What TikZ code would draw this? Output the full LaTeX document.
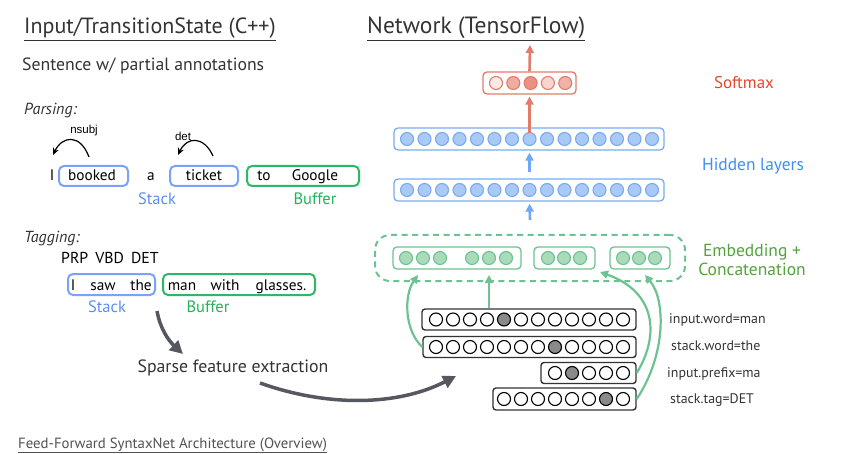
\documentclass[tikz,border=0pt]{standalone}
\usepackage{fontspec}
\setmainfont{PT Sans}
\newfontfamily\arialf{Liberation Sans}
\usetikzlibrary{arrows.meta}
\definecolor{bstroke}{HTML}{7AAAF0}
\definecolor{bfill}{HTML}{A9C9F7}
\definecolor{barrow}{HTML}{6FA8F5}
\definecolor{gstroke}{HTML}{6CC391}
\definecolor{gfill}{HTML}{A9DBBB}
\definecolor{rstroke}{HTML}{E27B6A}
\definecolor{rA}{HTML}{FBE9E5}
\definecolor{rB}{HTML}{EFACA0}
\definecolor{rC}{HTML}{EB9183}
\definecolor{rD}{HTML}{F8D6D0}
\definecolor{rE}{HTML}{F0B2A8}
\definecolor{darkbox}{HTML}{333333}
\definecolor{hot}{HTML}{8A8A8A}
\definecolor{garrow}{HTML}{55585E}
\definecolor{parseblue}{HTML}{7AA3F7}
\definecolor{parsegreen}{HTML}{2CB866}
\definecolor{stacklbl}{HTML}{5B8EF0}
\definecolor{bufflbl}{HTML}{22B359}
\definecolor{softlbl}{HTML}{E3472E}
\definecolor{hidlbl}{HTML}{3D8EF5}
\definecolor{emblbl}{HTML}{52A43A}
\definecolor{txtgray}{HTML}{333333}
\begin{document}
\begin{tikzpicture}[x=1pt,y=-1pt,
  lay/.style={draw, rounded corners=4pt, line width=1.3pt, minimum height=22pt, inner sep=0pt},
  bc/.style={circle, draw=bstroke, fill=bfill, line width=1.1pt, minimum size=13pt, inner sep=0pt},
  gc/.style={circle, draw=gstroke, fill=gfill, line width=1.1pt, minimum size=13pt, inner sep=0pt},
  rc/.style={circle, draw=rstroke, line width=1.1pt, minimum size=13pt, inner sep=0pt},
  oc/.style={circle, draw=black, fill=white, line width=1.1pt, minimum size=13pt, inner sep=0pt},
  hc/.style={oc, fill=hot},
  sparse/.style={draw=darkbox, rounded corners=3pt, line width=1.4pt, minimum height=21pt, inner sep=0pt},
  pbox/.style={rounded corners=5pt, line width=2pt, minimum height=20pt, inner sep=0pt},
  blarrow/.style={-{Triangle[length=8pt,width=8pt]}, line width=2.6pt, draw=barrow},
  rdarrow/.style={-{Triangle[length=8pt,width=8pt]}, line width=2.6pt, draw=rstroke},
  grarrow/.style={-{Triangle[length=8pt,width=8pt]}, line width=2.2pt, draw=gstroke},
  dkarrow/.style={-{Triangle[length=13pt,width=13pt]}, line width=3.5pt, draw=garrow},
  txt/.style={inner sep=0pt, text=txtgray, anchor=base},
  ltxt/.style={inner sep=0pt, text=txtgray, anchor=base west},
  word/.style={txt, text=black, font=\fontsize{15.3}{18}\selectfont},
  role/.style={txt, font=\fontsize{16.5}{19}\selectfont},
  fea/.style={ltxt, font=\fontsize{13.9}{16}\selectfont},
]
\useasboundingbox (0,0) rectangle (864,454);

% ---------- titles ----------
\node[ltxt, font=\fontsize{22}{26}\selectfont] (t1) at (24,34) {\underline{Input/TransitionState (C++)}};
\node[ltxt, font=\fontsize{23.5}{26}\selectfont] (t2) at (367,34) {\underline{Network (TensorFlow)}};
\node[ltxt, font=\fontsize{17.7}{20}\selectfont] (sent) at (22,71) {Sentence w/ partial annotations};

% ---------- parsing ----------
\node[ltxt, font=\fontsize{16}{18}\itshape] (parsing) at (24,115) {Parsing:};
\node[pbox, draw=parseblue, minimum width=69pt] (booked) at (93.5,176) {};
\node[pbox, draw=parseblue, minimum width=68pt] (ticket) at (204,176) {};
\node[pbox, draw=parsegreen, minimum width=112pt] (tobox) at (303,176) {};
\node[word] (wI) at (52,181) {I};
\node[word] (wbooked) at (92,181) {booked};
\node[word] (wa) at (151,181) {a};
\node[word] (wticket) at (204,181) {ticket};
\node[word] (wto) at (264,181) {to};
\node[word] (wgoogle) at (315,181) {Google};
\node[role, text=stacklbl] (stk1) at (157,205) {Stack};
\node[role, text=bufflbl] (buf1) at (315,205) {Buffer};
\coordinate (ns1) at (89,157);
\coordinate (ns2) at (53,155);
\coordinate (de1) at (213,156);
\coordinate (de2) at (178,155);
\draw[-{Stealth[length=7pt,width=6pt]}, line width=1.2pt] (ns1) .. controls (80,133) and (62,136) .. (ns2);
\draw[-{Stealth[length=7pt,width=6pt]}, line width=1.2pt] (de1) .. controls (204,136) and (187,136) .. (de2);
\node[txt, text=black, font=\arialf\fontsize{11.5}{13}\selectfont] (nsubj) at (84,134) {nsubj};
\node[txt, text=black, font=\arialf\fontsize{11.5}{13}\selectfont] (det) at (183,141) {det};

% ---------- tagging ----------
\node[ltxt, font=\fontsize{16}{18}\itshape] (tagging) at (24,243) {Tagging:};
\node[ltxt, text=black, font=\fontsize{15.8}{18}\selectfont] (tags) at (61,264) {PRP\hspace{0.45em}VBD\hspace{0.45em}DET};
\node[pbox, draw=parseblue, minimum width=87pt, minimum height=21pt] (tstack) at (111.5,284.5) {};
\node[pbox, draw=parsegreen, minimum width=152pt, minimum height=21pt] (tbuf) at (239,284.5) {};
\node[word] (tI) at (73,290) {I};
\node[word] (tsaw) at (103,290) {saw};
\node[word] (tthe) at (141,290) {the};
\node[word] (tman) at (182,290) {man};
\node[word] (twith) at (225,290) {with};
\node[word] (tglass) at (281,290) {glasses.};
\node[role, text=stacklbl] (stk2) at (107,312) {Stack};
\node[role, text=bufflbl] (buf2) at (208,312) {Buffer};

\node[txt, font=\fontsize{17.8}{20}\selectfont] (sfe) at (233,372) {Sparse feature extraction};
\coordinate (g1s) at (157,311);
\coordinate (g1e) at (183,354);
\coordinate (g2s) at (260,383);
\coordinate (g2e) at (456,376);
\draw[dkarrow] (g1s) .. controls (160,328) and (168,340) .. (g1e);
\draw[dkarrow] (g2s) .. controls (330,408) and (400,405) .. (g2e);

\node[ltxt, text=txtgray!85!white, font=\fontsize{14.8}{17}\selectfont] (foot) at (18,448) {\underline{Feed-Forward SyntaxNet Architecture (Overview)}};

% ---------- network ----------
% softmax
\node[lay, draw=rstroke, minimum width=93pt] (soft) at (529.5,83) {};
\node[rc, fill=rA] (s0) at (496,83) {};
\node[rc, fill=rB] (s1) at (513.3,83) {};
\node[rc, fill=rC] (s2) at (530.6,83) {};
\node[rc, fill=rD] (s3) at (547.9,83) {};
\node[rc, fill=rE] (s4) at (565.2,83) {};
\node[txt, text=softlbl, font=\fontsize{17}{19}\selectfont] (softlab) at (744,89) {Softmax};

% hidden
\node[lay, draw=bstroke, minimum width=270pt] (h1) at (529,139) {};
\node[lay, draw=bstroke, minimum width=270pt] (h2) at (529,190) {};
\foreach \i in {0,...,14} {
  \node[bc] (ha\i) at (407+17.5*\i,139) {};
  \node[bc] (hb\i) at (407+17.5*\i,190) {};
}
\node[txt, text=hidlbl, font=\fontsize{17.4}{19}\selectfont] (hidlab) at (753,171) {Hidden layers};

% embedding
\node[draw=gstroke, dashed, dash pattern=on 6pt off 4.5pt, line width=2pt, rounded corners=15pt, minimum width=310pt, minimum height=46pt, inner sep=0pt] (emb) at (530,258) {};
\node[lay, draw=gstroke, minimum width=128pt] (e1) at (457,258) {};
\node[lay, draw=gstroke, minimum width=61pt] (e2) at (564.5,258) {};
\node[lay, draw=gstroke, minimum width=60pt] (e3) at (640,258) {};
\foreach \x [count=\k] in {406,423,440,472,489,506,548,564,580,623,639,655}
  \node[gc] (ec\k) at (\x,258) {};
\node[txt, text=emblbl, font=\fontsize{17.5}{19}\selectfont] (emblab1) at (752,256) {Embedding +};
\node[txt, text=emblbl, font=\fontsize{17.5}{19}\selectfont] (emblab2) at (752,276) {Concatenation};

% arrows in network
\coordinate (top) at (530,45);
\coordinate (in1) at (530,220);
\draw[rdarrow] (soft.north) -- (top);
\draw[rdarrow] ([yshift=-6pt]h1.north -| soft.south) -- ([yshift=-2pt]soft.south);
\draw[blarrow] ([yshift=6pt]h2.north -| soft.south) -- ([yshift=-2pt]h1.south -| soft.south);
\draw[blarrow] (in1) -- ([yshift=-2pt]h2.south -| soft.south);

% sparse rows
\node[sparse, minimum width=214pt] (r1) at (529,319.5) {};
\node[sparse, minimum width=213pt] (r2) at (529.5,347) {};
\node[sparse, minimum width=95pt] (r3) at (588.5,373) {};
\node[sparse, minimum width=143pt, minimum height=22pt] (r4) at (564.5,399) {};
\foreach \i in {0,...,11} {
  \ifnum\i=4 \node[hc] (ra\i) at (436+17*\i,319.5) {}; \else \node[oc] (ra\i) at (436+17*\i,319.5) {}; \fi
  \ifnum\i=7 \node[hc] (rb\i) at (436+17*\i,347) {}; \else \node[oc] (rb\i) at (436+17*\i,347) {}; \fi
}
\foreach \i in {0,...,4} {
  \ifnum\i=1 \node[hc] (rc\i) at (555+17*\i,373) {}; \else \node[oc] (rc\i) at (555+17*\i,373) {}; \fi
}
\foreach \i in {0,...,7} {
  \ifnum\i=6 \node[hc] (rd\i) at (504+17*\i,399) {}; \else \node[oc] (rd\i) at (504+17*\i,399) {}; \fi
}
\node[fea] (f1) at (669,323) {input.word=man};
\node[fea] (f2) at (671,350) {stack.word=the};
\node[fea] (f3) at (667,377) {input.prefix=ma};
\node[fea] (f4) at (670,403) {stack.tag=DET};

% green arrows
\coordinate (ga1) at (489,275);
\coordinate (ga2) at (418,275);
\coordinate (ga3) at (600,272);
\coordinate (ga4) at (645,275);
\draw[grarrow] (r1.north -| ga1) -- (ga1);
\draw[grarrow] (r2.west) .. controls (404,330) and (404,295) .. (ga2);
\draw[grarrow] (r3.east) .. controls (660,335) and (656,292) .. (ga3);
\draw[grarrow] (r4.east) .. controls (666,355) and (666,300) .. (ga4);
\end{tikzpicture}
\end{document}
